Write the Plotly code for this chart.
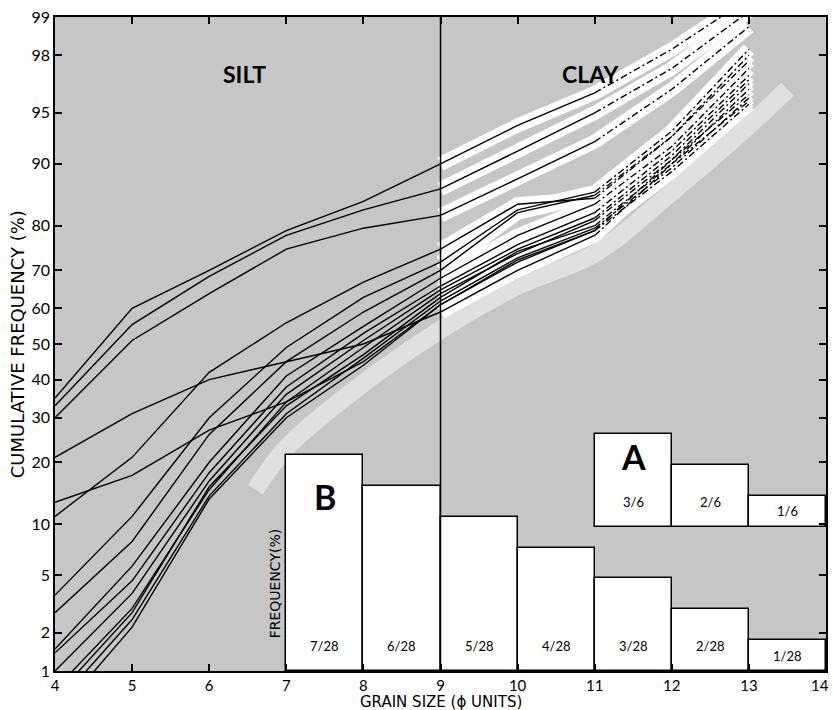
import plotly.graph_objects as go
from statistics import NormalDist

_nd = NormalDist()


def probit(p):
    return _nd.inv_cdf(p / 100.0)


# ---------------- data ----------------
phi_solid = [4, 5, 6, 7, 8, 9, 10, 11]
phi_dashed = [11, 12, 13]

# cumulative frequency (%) of each sample at phi 4..11 (solid part)
sample_01 = [35, 60, 70, 79, 84.5, 90, 94, 96.3]
sample_02 = [33, 55.5, 68.5, 78, 83, 86.5, 91.5, 95]
sample_03 = [30, 51, 64, 75, 79.5, 82, 88, 92.5]
sample_04 = [21, 31, 40, 45, 50, 59, 70, 78]
sample_05 = [13, 17.5, 27, 34, 45, 61, 72, 79]
sample_06 = [11, 21, 42, 56, 67, 75, 84, 85]
sample_07 = [3.7, 11, 30, 49, 63, 72, 83, 86]
sample_08 = [2.8, 8, 26, 45, 59, 70, 82.5, 85.5]
sample_09 = [1.5, 5.7, 20, 41, 55, 68, 78, 84]
sample_10 = [1.4, 4.6, 18, 38, 53, 66, 76, 82.5]
sample_11 = [1.0, 3.8, 16.5, 36, 51, 65, 75, 81.5]
sample_12 = [0.7, 3.0, 15, 34, 49, 64, 74, 81]
sample_13 = [0.6, 2.8, 15.5, 33, 47, 63, 74.5, 80]
sample_14 = [0.5, 2.5, 14, 31, 46, 62, 73, 79.5]
sample_15 = [0.4, 2.2, 13.5, 30, 44, 61, 72.5, 79]

# extrapolated (dashed) values at phi 12 and 13
extrap_01 = [98.2, 99.3]
extrap_02 = [97.5, 99.1]
extrap_03 = [96.5, 98.8]
extrap_04 = [90, 95.8]
extrap_05 = [90.5, 96.2]
extrap_06 = [93, 98]
extrap_07 = [93.5, 98.2]
extrap_08 = [93, 97.8]
extrap_09 = [92, 97.5]
extrap_10 = [91.5, 97.2]
extrap_11 = [91, 97]
extrap_12 = [90.5, 96.8]
extrap_13 = [90, 96.5]
extrap_14 = [89.5, 96]
extrap_15 = [89, 95.6]

# light band just below the curve envelope
envelope_phi = [6.6, 7, 8, 9, 10, 11, 12, 13, 13.5]
envelope_low = [15, 23, 39, 54, 66, 74, 86, 94, 96.5]

y_tick_values = [1, 2, 5, 10, 20, 30, 40, 50, 60, 70, 80, 90, 95, 98, 99]
x_tick_values = [4, 5, 6, 7, 8, 9, 10, 11, 12, 13, 14]
silt_clay_boundary = 9

# histogram B (28 samples) and A (6 samples)
hist_b_phi = [7.5, 8.5, 9.5, 10.5, 11.5, 12.5, 13.5]
hist_b_count = [7, 6, 5, 4, 3, 2, 1]
hist_b_total = 28
hist_a_phi = [11.5, 12.5, 13.5]
hist_a_count = [3, 2, 1]
hist_a_total = 6

# ---------------- layout constants ----------------
HIST_RANGE = 21.19      # count units spanning plot height
HIST_A_BASE = 4.67      # baseline of inset histogram A
FONT = "Lato, 'Open Sans', sans-serif"
WIDE = "'DejaVu Sans', sans-serif"

samples = [sample_01, sample_02, sample_03, sample_04, sample_05, sample_06,
           sample_07, sample_08, sample_09, sample_10, sample_11, sample_12,
           sample_13, sample_14, sample_15]
extraps = [extrap_01, extrap_02, extrap_03, extrap_04, extrap_05, extrap_06,
           extrap_07, extrap_08, extrap_09, extrap_10, extrap_11, extrap_12,
           extrap_13, extrap_14, extrap_15]

fig = go.Figure()

# soft white envelope band
fig.add_trace(go.Scatter(
    x=envelope_phi, y=[probit(v) for v in envelope_low], mode="lines",
    line=dict(color="rgba(255,255,255,0.45)", width=18, shape="spline"),
    hoverinfo="skip", showlegend=False))

# white halos in the clay part (background between curves is white there)
k9 = phi_solid.index(silt_clay_boundary)
for s, e in zip(samples, extraps):
    fig.add_trace(go.Scatter(
        x=phi_solid[k9:] + phi_dashed[1:], y=[probit(v) for v in s[k9:] + e],
        mode="lines", line=dict(color="white", width=14),
        hoverinfo="skip", showlegend=False))

# black curves
for s, e in zip(samples, extraps):
    fig.add_trace(go.Scatter(
        x=phi_solid, y=[probit(v) for v in s], mode="lines",
        line=dict(color="black", width=1.4), showlegend=False))
    fig.add_trace(go.Scatter(
        x=phi_dashed, y=[probit(v) for v in [s[-1]] + e], mode="lines",
        line=dict(color="black", width=1.4, dash="7px,3px,2px,3px"),
        showlegend=False))

# histograms
fig.add_trace(go.Bar(
    x=hist_b_phi, y=hist_b_count, width=1, yaxis="y2",
    marker=dict(color="white", line=dict(color="black", width=1.5)),
    showlegend=False, hoverinfo="skip"))
fig.add_trace(go.Bar(
    x=hist_a_phi, y=hist_a_count, base=HIST_A_BASE, width=1, yaxis="y2",
    marker=dict(color="white", line=dict(color="black", width=1.5)),
    showlegend=False, hoverinfo="skip"))

annotations = []
for xp, c in zip(hist_b_phi, hist_b_count):
    annotations.append(dict(x=xp, y=min(0.8, c / 2), xref="x", yref="y2",
                            text=f"{c}/{hist_b_total}", showarrow=False,
                            font=dict(family=FONT, size=13, color="black")))
for xp, c in zip(hist_a_phi, hist_a_count):
    annotations.append(dict(x=xp, y=HIST_A_BASE + min(0.8, c / 2), xref="x",
                            yref="y2", text=f"{c}/{hist_a_total}",
                            showarrow=False,
                            font=dict(family=FONT, size=13, color="black")))
annotations += [
    dict(x=hist_b_phi[0], y=5.64, xref="x", yref="y2", text="<b>B</b>",
         showarrow=False, font=dict(family=FONT, size=34, color="black")),
    dict(x=hist_a_phi[0], y=HIST_A_BASE + 2.27, xref="x", yref="y2",
         text="<b>A</b>", showarrow=False,
         font=dict(family=FONT, size=34, color="black")),
    dict(x=hist_b_phi[0] - 0.5, y=2.85, xref="x", yref="y2",
         text="FREQUENCY(%)", textangle=-90, xanchor="right", xshift=-1,
         showarrow=False, font=dict(family=WIDE, size=14, color="black")),
    dict(x=6.46, y=0.937, xref="x", yref="paper", text="<b>SILT</b>",
         showarrow=False, font=dict(family=FONT, size=23, color="black")),
    dict(x=10.94, y=0.937, xref="x", yref="paper", text="<b>CLAY</b>",
         showarrow=False, font=dict(family=FONT, size=23, color="black")),
    dict(x=0.5, y=-0.047, xref="paper", yref="paper",
         text="GRAIN SIZE (ϕ UNITS)", showarrow=False, yanchor="middle",
         font=dict(family=WIDE, size=15, color="black")),
    dict(x=-0.049, y=0.5, xref="paper", yref="paper",
         text="CUMULATIVE FREQUENCY (%)", showarrow=False, textangle=-90,
         xanchor="center", font=dict(family=WIDE, size=18, color="black")),
    # last x tick label, kept inside the page edge
    dict(x=x_tick_values[-1], y=0, xref="x", yref="paper",
         text=str(x_tick_values[-1]), showarrow=False, xanchor="right",
         yanchor="top", xshift=5, yshift=-3,
         font=dict(family=FONT, size=15, color="black")),
]

fig.add_vline(x=silt_clay_boundary, line=dict(color="black", width=1.5),
              layer="above")

fig.update_layout(
    width=833, height=710,
    margin=dict(l=55, r=7, t=17, b=39, autoexpand=False),
    paper_bgcolor="white", plot_bgcolor="#c6c6c6",
    bargap=0, barmode="overlay",
    font=dict(family=FONT, size=14, color="black"),
    annotations=annotations,
    xaxis=dict(range=[4, 14], tickvals=x_tick_values,
               ticktext=[str(v) for v in x_tick_values[:-1]] + [""],
               ticks="inside", ticklen=7, tickwidth=1.5, tickcolor="black",
               showline=True, linecolor="black", linewidth=1.5,
               mirror="ticks", showgrid=False, zeroline=False,
               automargin=False, ticklabeloverflow="allow",
               tickfont=dict(size=15), ticklabelstandoff=0),
    yaxis=dict(range=[probit(1), probit(99)],
               tickvals=[probit(v) for v in y_tick_values],
               ticktext=[str(v) for v in y_tick_values],
               ticks="inside", ticklen=7, tickwidth=1.5, tickcolor="black",
               showline=True, linecolor="black", linewidth=1.5,
               mirror="ticks", showgrid=False, zeroline=False,
               automargin=False, ticklabeloverflow="allow",
               tickfont=dict(size=16)),
    yaxis2=dict(range=[0, HIST_RANGE], overlaying="y", visible=False,
                showgrid=False, zeroline=False),
)

fig.write_html("out.html")
